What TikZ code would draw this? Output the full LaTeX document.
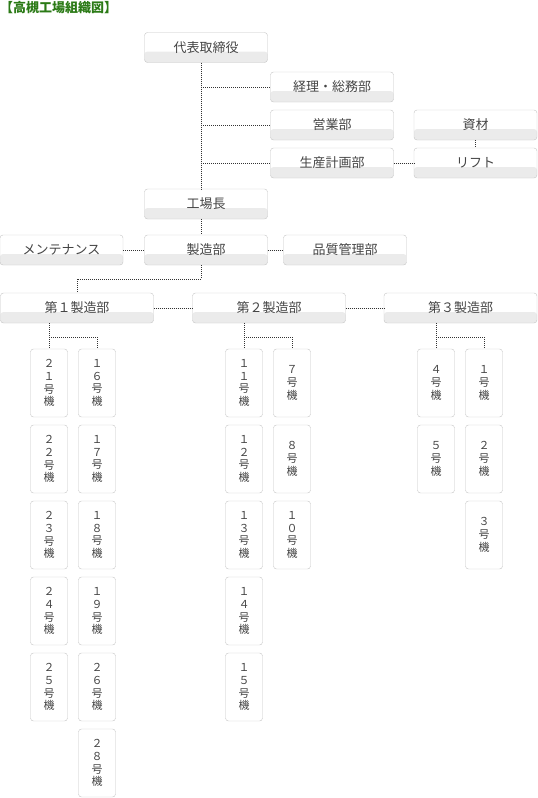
\documentclass[tikz,border=0pt]{standalone}
\usepackage{fontspec}
\setmainfont{Noto Sans CJK JP}
\usepackage{tikz}
\usetikzlibrary{positioning,calc}
\definecolor{rim}{HTML}{C4C4C4}
\definecolor{pale}{HTML}{EBEBEB}
\definecolor{ink}{HTML}{444444}
\definecolor{leaf}{HTML}{2B7A16}
\tikzset{unit/.style={draw=rim,rounded corners=3pt,minimum width=123pt,minimum height=30pt,inner sep=0pt,
           text=ink,font=\fontsize{13}{15}\selectfont,
           path picture={\fill[pale] ([yshift=11pt]path picture bounding box.south west) rectangle (path picture bounding box.south east);}},
         wide/.style={unit,minimum width=153pt},
         machine/.style={draw=rim,rounded corners=3pt,minimum width=37pt,minimum height=68pt,inner sep=0pt,
           align=center,text=ink,font=\fontsize{11}{12.8}\selectfont},
         link/.style={draw=black!80,line width=0.9pt,dash pattern=on 1pt off 1pt}}

\begin{document}
\begin{tikzpicture}[x=1pt,y=-1pt]
\useasboundingbox (0,0) rectangle (538,798);
\node[anchor=west,inner sep=0pt,text=leaf,font=\fontsize{13}{15}\selectfont\bfseries] (title) at (0,8) {【高槻工場組織図】};
\coordinate (trunk) at (201,0);
\node[unit] (head) at (206,47.5) {代表取締役};
\node[unit] (acct) at (332,87) {経理・総務部};
\node[unit] (sales) at (332,125) {営業部};
\node[unit] (plan) at (332,163) {生産計画部};
\node[unit] (stock) at (475.5,125) {資材};
\node[unit] (lift) at (475.5,163) {リフト};
\node[unit] (plant) at (206,204) {工場長};
\node[unit] (make) at (206,250) {製造部};
\node[unit] (maint) at (61.5,250) {メンテナンス};
\node[unit] (qual) at (345,250) {品質管理部};
\node[wide] (div1) at (77,308) {第１製造部};
\node[wide] (div2) at (269,308) {第２製造部};
\node[wide] (div3) at (460.5,308) {第３製造部};
% machines, one column at a time
\foreach \cx/\cid/\lst in {49/a/{２\\１,２\\２,２\\３,２\\４,２\\５},
                           97/b/{１\\６,１\\７,１\\８,１\\９,２\\６,２\\８},
                           244/c/{１\\１,１\\２,１\\３,１\\４,１\\５},
                           292/d/{７,８,１\\０},
                           436/e/{４,５},
                           484/f/{１,２,３}}
  \foreach \lbl [count=\k from 0] in \lst
    \node[machine] (\cid\k) at (\cx,383+76*\k) {\lbl\\号\\機};
% connectors
\draw[link] (head.south -| trunk) -- (plant.north -| trunk);
\draw[link] (trunk |- acct.west) -- (acct.west);
\draw[link] (trunk |- sales.west) -- (sales.west);
\draw[link] (trunk |- plan.west) -- (plan.west);
\draw[link] (plan.east) -- (lift.west);
\draw[link] (stock.south) -- (lift.north);
\draw[link] (plant.south -| trunk) -- (make.north -| trunk);
\draw[link] (maint.east) -- (make.west);
\draw[link] (make.east) -- (qual.west);
\draw[link] (make.south -| trunk) -- ++(0,14) -| (div1.north);
\draw[link] (div1.east) -- (div2.west);
\draw[link] (div2.east) -- (div3.west);
\draw[link] (div1.south -| a0.north) -- (a0.north);
\draw[link] (div1.south -| a0.north) -- ++(0,14) -| (b0.north);
\draw[link] (div2.south -| c0.north) -- (c0.north);
\draw[link] (div2.south -| c0.north) -- ++(0,14) -| (d0.north);
\draw[link] (div3.south -| e0.north) -- (e0.north);
\draw[link] (div3.south -| e0.north) -- ++(0,14) -| (f0.north);
\end{tikzpicture}
\end{document}
